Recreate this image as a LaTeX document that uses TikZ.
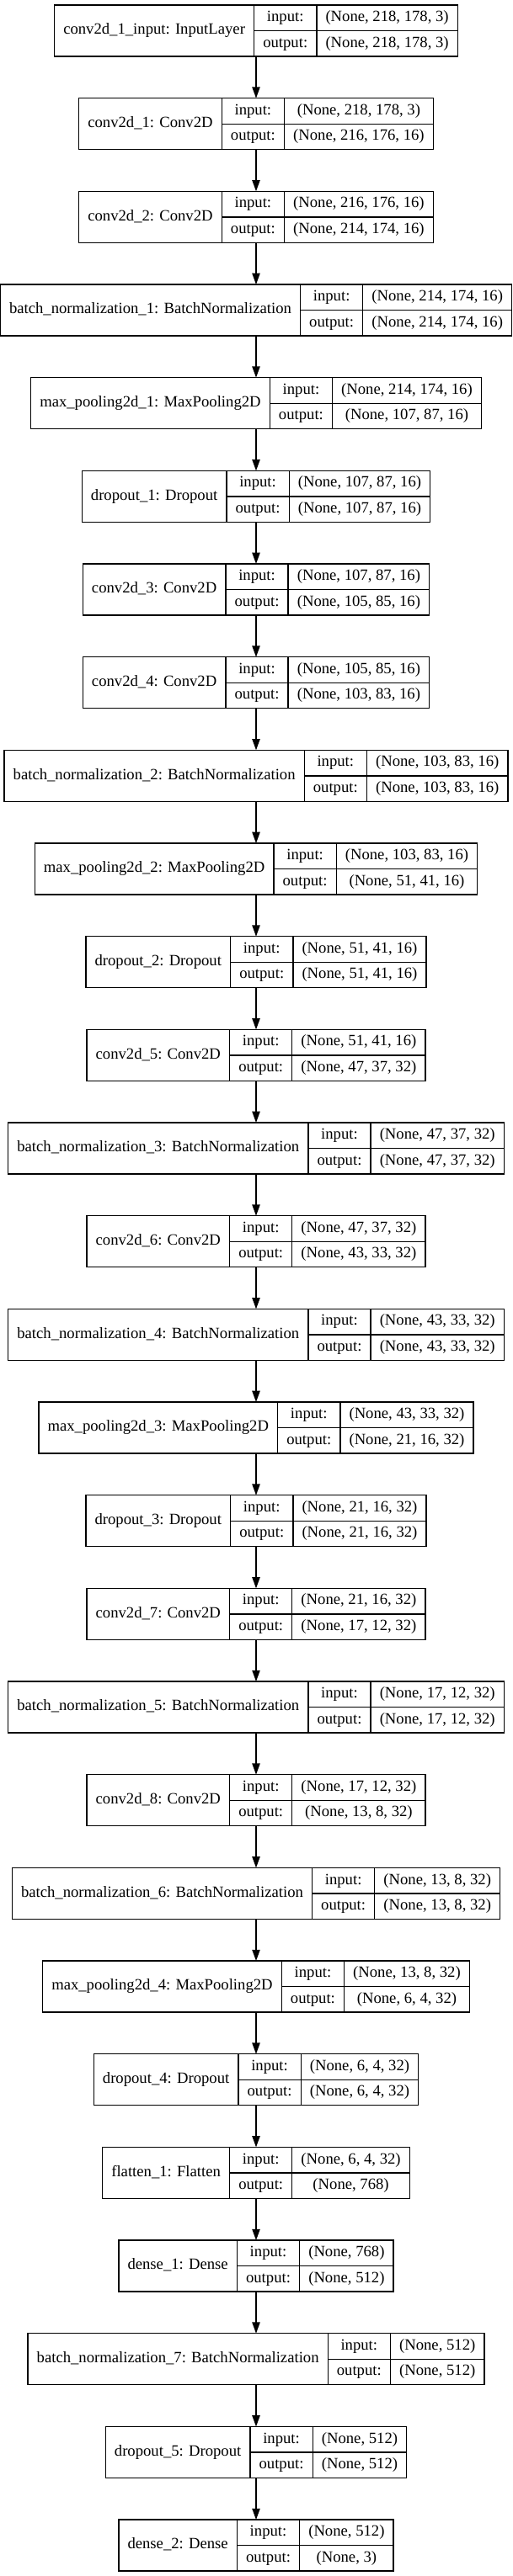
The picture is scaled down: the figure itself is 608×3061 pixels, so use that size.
\documentclass[tikz,border=0pt]{standalone}
\usepackage{fontspec}
\setmainfont{Liberation Serif}
\usetikzlibrary{arrows.meta}
\newlength\lwa \newlength\lwb \newlength\lwc \newlength\lwd \newlength\lwt
\newcommand\recfont{\fontsize{14pt}{16.8pt}\selectfont}
\tikzset{
  cell/.style={draw, line width=1pt, inner sep=0pt, outer sep=0pt, font=\recfont, text height=10pt, text depth=3.5pt, align=center},
  rec/.style={draw, line width=1pt, inner sep=0pt, outer sep=0pt, minimum height=45.75pt},
  flow/.style={draw, line width=1pt, -{Triangle[length=10pt,width=7pt]}}
}
\newcommand\measure[3]{%
  \pgfinterruptpicture
    \normalfont\recfont
    \settowidth\lwa{#1}\global\lwa=\lwa
    \settowidth\lwb{output:}\global\lwb=\lwb
    \settowidth\lwc{#2}\settowidth\lwd{#3}%
    \ifdim\lwd>\lwc \lwc=\lwd\fi
    \global\lwc=\lwc
  \endpgfinterruptpicture
  \global\advance\lwa 16pt
  \global\advance\lwb 16pt
  \global\advance\lwc 16pt
  \global\lwt=\lwa \global\advance\lwt\lwb \global\advance\lwt\lwc
}
\newcommand\layer[5]{%
  \measure{#3}{#4}{#5}%
  \pgfmathsetmacro\yc{6+#2*110.67+30.5}%
  \node[rec, minimum width=\lwt] (#1) at (304,\yc) {};
  \node[cell, minimum width=\lwa, minimum height=45.75pt, anchor=north west] (#1-n) at (#1.north west) {#3};
  \node[cell, minimum width=\lwb, minimum height=22.875pt, anchor=north west] (#1-li) at (#1-n.north east) {input:};
  \node[cell, minimum width=\lwb, minimum height=22.875pt, anchor=north west] (#1-lo) at (#1-li.south west) {output:};
  \node[cell, minimum width=\lwc, minimum height=22.875pt, anchor=north west] (#1-vi) at (#1-li.north east) {#4};
  \node[cell, minimum width=\lwc, minimum height=22.875pt, anchor=north west] (#1-vo) at (#1-lo.north east) {#5};
}
\begin{document}
\begin{tikzpicture}[x=0.75pt, y=-0.75pt]
\useasboundingbox (0,0) rectangle (608,3061);
\layer{L0}{0}{conv2d\_1\_input: InputLayer}{(None, 218, 178, 3)}{(None, 218, 178, 3)}
\layer{L1}{1}{conv2d\_1: Conv2D}{(None, 218, 178, 3)}{(None, 216, 176, 16)}
\layer{L2}{2}{conv2d\_2: Conv2D}{(None, 216, 176, 16)}{(None, 214, 174, 16)}
\layer{L3}{3}{batch\_normalization\_1: BatchNormalization}{(None, 214, 174, 16)}{(None, 214, 174, 16)}
\layer{L4}{4}{max\_pooling2d\_1: MaxPooling2D}{(None, 214, 174, 16)}{(None, 107, 87, 16)}
\layer{L5}{5}{dropout\_1: Dropout}{(None, 107, 87, 16)}{(None, 107, 87, 16)}
\layer{L6}{6}{conv2d\_3: Conv2D}{(None, 107, 87, 16)}{(None, 105, 85, 16)}
\layer{L7}{7}{conv2d\_4: Conv2D}{(None, 105, 85, 16)}{(None, 103, 83, 16)}
\layer{L8}{8}{batch\_normalization\_2: BatchNormalization}{(None, 103, 83, 16)}{(None, 103, 83, 16)}
\layer{L9}{9}{max\_pooling2d\_2: MaxPooling2D}{(None, 103, 83, 16)}{(None, 51, 41, 16)}
\layer{L10}{10}{dropout\_2: Dropout}{(None, 51, 41, 16)}{(None, 51, 41, 16)}
\layer{L11}{11}{conv2d\_5: Conv2D}{(None, 51, 41, 16)}{(None, 47, 37, 32)}
\layer{L12}{12}{batch\_normalization\_3: BatchNormalization}{(None, 47, 37, 32)}{(None, 47, 37, 32)}
\layer{L13}{13}{conv2d\_6: Conv2D}{(None, 47, 37, 32)}{(None, 43, 33, 32)}
\layer{L14}{14}{batch\_normalization\_4: BatchNormalization}{(None, 43, 33, 32)}{(None, 43, 33, 32)}
\layer{L15}{15}{max\_pooling2d\_3: MaxPooling2D}{(None, 43, 33, 32)}{(None, 21, 16, 32)}
\layer{L16}{16}{dropout\_3: Dropout}{(None, 21, 16, 32)}{(None, 21, 16, 32)}
\layer{L17}{17}{conv2d\_7: Conv2D}{(None, 21, 16, 32)}{(None, 17, 12, 32)}
\layer{L18}{18}{batch\_normalization\_5: BatchNormalization}{(None, 17, 12, 32)}{(None, 17, 12, 32)}
\layer{L19}{19}{conv2d\_8: Conv2D}{(None, 17, 12, 32)}{(None, 13, 8, 32)}
\layer{L20}{20}{batch\_normalization\_6: BatchNormalization}{(None, 13, 8, 32)}{(None, 13, 8, 32)}
\layer{L21}{21}{max\_pooling2d\_4: MaxPooling2D}{(None, 13, 8, 32)}{(None, 6, 4, 32)}
\layer{L22}{22}{dropout\_4: Dropout}{(None, 6, 4, 32)}{(None, 6, 4, 32)}
\layer{L23}{23}{flatten\_1: Flatten}{(None, 6, 4, 32)}{(None, 768)}
\layer{L24}{24}{dense\_1: Dense}{(None, 768)}{(None, 512)}
\layer{L25}{25}{batch\_normalization\_7: BatchNormalization}{(None, 512)}{(None, 512)}
\layer{L26}{26}{dropout\_5: Dropout}{(None, 512)}{(None, 512)}
\layer{L27}{27}{dense\_2: Dense}{(None, 512)}{(None, 3)}
\foreach \a/\b in {0/1,1/2,2/3,3/4,4/5,5/6,6/7,7/8,8/9,9/10,10/11,11/12,12/13,13/14,14/15,15/16,16/17,17/18,18/19,19/20,20/21,21/22,22/23,23/24,24/25,25/26,26/27}
  \draw[flow] (L\a.south) -- (L\b.north);
\end{tikzpicture}
\end{document}
